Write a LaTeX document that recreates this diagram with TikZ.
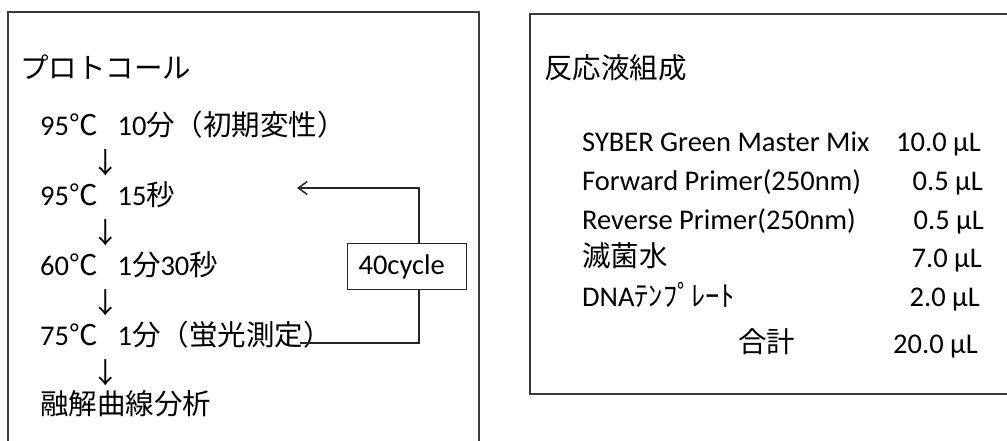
\documentclass[tikz,border=0pt]{standalone}
\usepackage{fontspec}
\setmainfont{Carlito}
\newfontfamily\cjk{Noto Sans CJK JP}
\usetikzlibrary{arrows.meta}
\newcommand{\J}[1]{{\cjk #1}}
\definecolor{frame}{HTML}{3a3a3a}
\tikzset{
  txt/.style={anchor=base west, inner sep=0pt, font=\fontsize{28.5}{30}\selectfont},
  amt/.style={anchor=base east, inner sep=0pt, font=\fontsize{28.5}{30}\selectfont},
  dn/.style={anchor=center, inner sep=0pt, font=\fontsize{28.5}{30}\selectfont\cjk},
  panel/.style={draw=frame, line width=1.1pt},
  loop/.style={draw=black!85, line width=1.2pt},
}
\begin{document}
\begin{tikzpicture}[x=1pt,y=-1pt]
\useasboundingbox (0,0) rectangle (1007,441);
% left panel
\draw[panel] (8,441) -- (8,12) -- (479,12) -- (479,441);
\node[txt] (ptitle) at (20,79) {\J{プロトコール}};
\node[txt] (s1) at (40,136) {95\J{℃}\hspace{20pt}10\J{分（初期変性）}};
\node[dn] (a1) at (106,163) {↓};
\node[txt] (s2) at (40,205) {95\J{℃}\hspace{20pt}15\J{秒}};
\node[dn] (a2) at (106,233) {↓};
\node[txt] (s3) at (40,275) {60\J{℃}\hspace{20pt}1\J{分}30\J{秒}};
\node[dn] (a3) at (106,303) {↓};
\node[txt] (s4) at (40,345) {75\J{℃}\hspace{20pt}1\J{分（蛍光測定）}};
\node[dn] (a4) at (106,373) {↓};
\node[txt] (s5) at (40,414) {\J{融解曲線分析}};
% loop
\node[draw=black!85, line width=1.1pt, anchor=north west, minimum height=46pt,
      text width=97pt, align=left, inner xsep=11pt, inner ysep=0pt,
      font=\fontsize{28.5}{30}\selectfont] (cyc) at (347,243) {40cycle};
\coordinate (lstart) at (300,343);
\coordinate (lbot) at (419,289);
\coordinate (ltop) at (419,243);
\coordinate (ltip) at (297,188);
\draw[loop] (lstart) -| (lbot);
\draw[loop, -{Straight Barb[length=9pt, width=13pt, line width=1.5pt]}] (ltop) |- (ltip);
% right panel
\draw[panel] (1007,14) -- (530,14) -- (530,394) -- (1007,394);
\node[txt] (rtitle) at (544,79) {\J{反応液組成}};
\node[txt] (r1) at (582,152) {SYBER Green Master Mix};
\node[amt] (v1) at (981,152) {10.0 µL};
\node[txt] (r2) at (582,190.5) {Forward Primer(250nm)};
\node[amt] (v2) at (983,190.5) {0.5 µL};
\node[txt] (r3) at (582,229) {Reverse Primer(250nm)};
\node[amt] (v3) at (984,229) {0.5 µL};
\node[txt] (r4) at (582,266) {\J{滅菌水}};
\node[amt] (v4) at (982,267.5) {7.0 µL};
\node[txt] (r5) at (582,306.5) {DNA\J{ﾃﾝﾌﾟﾚｰﾄ}};
\node[amt] (v5) at (980,306.5) {2.0 µL};
\node[txt] (r6) at (738,352) {\J{合計}};
\node[amt] (v6) at (978,353) {20.0 µL};
\end{tikzpicture}
\end{document}
